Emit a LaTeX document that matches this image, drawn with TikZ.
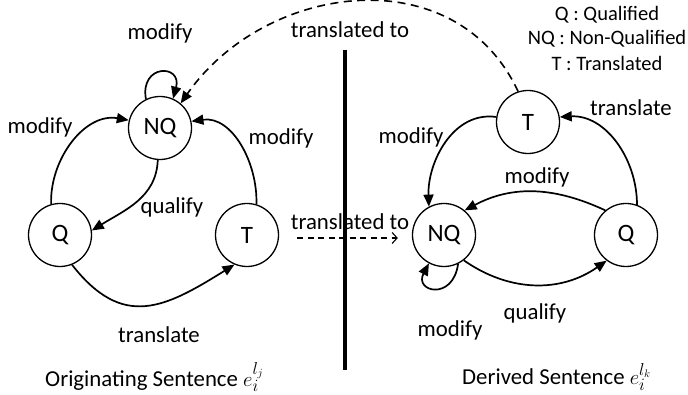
\documentclass[tikz,border=0pt]{standalone}
\usepackage{fontspec}
\setmainfont{Carlito}
\usetikzlibrary{arrows.meta}

\begin{document}
\begin{tikzpicture}[x=1pt,y=1pt,
  state/.style={circle,draw,line width=1.3pt,minimum size=63pt,inner sep=0pt,
                font=\fontsize{25}{29}\selectfont},
  lbl/.style={font=\fontsize{22.8}{27}\selectfont,inner sep=0pt},
  legend/.style={font=\fontsize{20.5}{24}\selectfont,inner sep=0pt},
  edge/.style={line width=1.7pt,-{Triangle[length=12pt,width=10pt]}},
  xlate/.style={dash pattern=on 8pt off 5.5pt,line width=1.6pt,
                -{Triangle[length=12pt,width=10pt]}},
  xlatethin/.style={dash pattern=on 6pt off 4.5pt,line width=1.1pt,
                -{Straight Barb[length=5pt,width=11pt]}}
]
\useasboundingbox (0,0) rectangle (688,395);

% states of the originating sentence
\node[state] (nqL) at (160,267) {NQ};
\node[state] (qL)  at (60,160)  {Q};
\node[state] (tL)  at (247,160) {T};

% states of the derived sentence
\node[state] (nqR) at (444,160) {NQ};
\node[state] (qR)  at (626,160) {Q};
\node[state] (tR)  at (528,273) {T};

% separator
\draw[line width=3.6pt] (345,345) -- (345,25);

% transitions, left side
\draw[edge] (nqL.116) .. controls +(100:36) and +(75:36) .. (nqL.66);
\draw[edge] (qL.106) to[out=92,in=170] (nqL.166);
\draw[edge] (tL.73) to[out=88,in=8] (nqL.12);
\draw[edge] (nqL.266) to[out=268,in=32] (qL.8);
\draw[edge] (qL.292) to[out=-52,in=212,looseness=1.3] (tL.247);

% transitions, right side
\draw[edge] (tR.171) to[out=172,in=92] (nqR.118);
\draw[edge] (qR.70) to[out=90,in=3] (tR.9);
\draw[edge] (qR.130) to[out=155,in=28] (nqR.50);
\draw[edge] (nqR.-52) to[out=-35,in=215] (qR.233);
\draw[edge] (nqR.-64) .. controls +(-98:38) and +(-118:32) .. (nqR.-118);

% translation links
\draw[xlate] (tR.108) to[out=115,in=55,looseness=1.12] (nqL.50);
\draw[xlatethin,shorten <=18pt,shorten >=14pt]
  ([yshift=-3pt]tL.east) -- ([yshift=-3pt]nqR.west);

% labels
\node[lbl] at (160,362) {modify};
\node[lbl] at (40,268)  {modify};
\node[lbl] at (281,257) {modify};
\node[lbl] at (172,188) {qualify};
\node[lbl] at (159,60)  {translate};
\node[lbl] at (350,365) {translated to};
\node[lbl] at (350,173) {translated to};

\node[lbl] at (631,287) {translate};
\node[lbl] at (411,258) {modify};
\node[lbl] at (537,218) {modify};
\node[lbl] at (535,82)  {qualify};
\node[lbl] at (450,65)  {modify};

\node[lbl,anchor=west] at (45,18) {Originating Sentence $e_i^{l_j}$};
\node[lbl,anchor=west] at (462,18) {Derived Sentence $e_i^{l_k}$};

% legend
\node[legend] at (607,380) {Q : Qualified};
\node[legend] at (607,356) {NQ : Non-Qualified};
\node[legend] at (607,332) {T : Translated};
\end{tikzpicture}
\end{document}
